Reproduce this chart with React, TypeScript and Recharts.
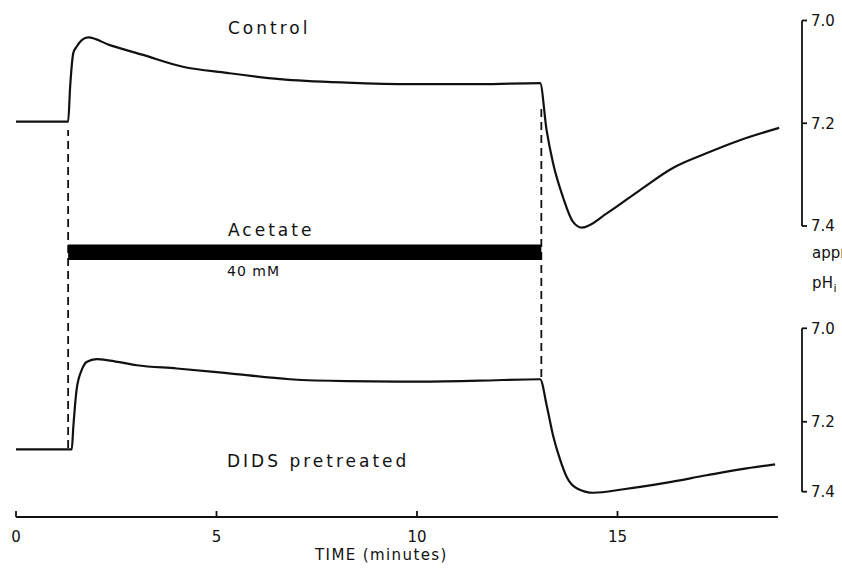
import React from "react";
import { LineChart, Line, XAxis, YAxis, ReferenceLine, ReferenceArea } from "recharts";

// time (minutes) and approximate pHi
const CONTROL_T = [0, 1.3, 1.35, 1.43, 1.51, 1.64, 1.8, 2.34, 3.17, 4.16, 5.26, 6.58, 8.25, 9.9, 11.57, 13.07, 13.23, 13.39, 13.64, 13.89, 14.11, 14.74, 15.56, 16.38, 17.23, 18.05, 19.03];
const CONTROL_PH = [7.197, 7.197, 7.129, 7.063, 7.051, 7.038, 7.033, 7.048, 7.067, 7.09, 7.102, 7.114, 7.121, 7.124, 7.124, 7.122, 7.213, 7.277, 7.344, 7.392, 7.403, 7.375, 7.33, 7.287, 7.258, 7.233, 7.209];

const DIDS_T = [0, 1.39, 1.43, 1.51, 1.64, 1.76, 2.01, 2.34, 3.01, 4.01, 5.26, 6.83, 8.25, 9.91, 11.57, 13.07, 13.24, 13.4, 13.57, 13.73, 13.98, 14.4, 15.15, 16.23, 17.22, 18.06, 18.93];
const DIDS_PH = [7.279, 7.279, 7.214, 7.132, 7.089, 7.072, 7.066, 7.069, 7.079, 7.086, 7.096, 7.109, 7.113, 7.114, 7.112, 7.109, 7.168, 7.243, 7.309, 7.357, 7.39, 7.403, 7.393, 7.374, 7.353, 7.336, 7.322];

const ACETATE_ON = 1.3;
const ACETATE_OFF = 13.1;

const TIME_TICKS = [0, 5, 10, 15];
const PH_TICKS = [7.0, 7.2, 7.4];

// "appr." pHi brackets: where each tick sits along the bracket (0 = top, 1 = bottom)
const CONTROL_CAL = [0, 0.5, 1];
const DIDS_CAL = [0, 0.572, 1];

const controlData = CONTROL_T.map((t, i) => ({ t, ph: CONTROL_PH[i] }));
const didsData = DIDS_T.map((t, i) => ({ t, ph: DIDS_PH[i] }));

const FONT = "'DejaVu Sans', sans-serif";
const INK = "#111";
const W = 842;
const PANEL_T_MAX = 19.6; // panel charts run up to the pH brackets
const AXIS_T_MAX = 19;
const TIME_TICK_MARGIN = 14;

// piecewise linear scale through the calibration ticks (d3-like interface)
function calScale(knots: number[], pos: number[]): any {
  let dom = [knots[0], knots[knots.length - 1]];
  let rng = [0, 1];
  const frac = (v: number) => {
    let i = 0;
    while (i < knots.length - 2 && v > knots[i + 1]) i++;
    const f = (v - knots[i]) / (knots[i + 1] - knots[i]);
    return pos[i] + f * (pos[i + 1] - pos[i]);
  };
  const s: any = (v: number) => rng[0] + frac(v) * (rng[1] - rng[0]);
  s.domain = (d?: number[]) => { if (d === undefined) return dom; dom = d; return s; };
  s.range = (r?: number[]) => { if (r === undefined) return rng; rng = r; return s; };
  s.copy = () => calScale(knots, pos).domain(dom).range(rng);
  s.ticks = () => knots;
  s.invert = (y: number) => {
    const f = (y - rng[0]) / (rng[1] - rng[0]);
    let i = 0;
    while (i < pos.length - 2 && f > pos[i + 1]) i++;
    return knots[i] + ((f - pos[i]) / (pos[i + 1] - pos[i])) * (knots[i + 1] - knots[i]);
  };
  return s;
}

function Note({ x, y, size = 17, spacing = 3, children }: any) {
  return (
    <div style={{ position: "absolute", left: x, top: y - size / 2, fontSize: size, lineHeight: `${size}px`,
      letterSpacing: spacing, whiteSpace: "nowrap", color: INK }}>
      {children}
    </div>
  );
}

// time ticks point up from the axis line, labels sit below it
function TimeTick({ x, y, payload }: any) {
  const axisY = y - TIME_TICK_MARGIN;
  return (
    <g>
      <line x1={x} x2={x} y1={axisY} y2={axisY - 6} stroke={INK} strokeWidth={1.8} />
      <text x={x} y={y} dy="0.71em" textAnchor="middle" fill={INK} fontSize={15} fontFamily={FONT}>
        {payload.value}
      </text>
    </g>
  );
}

function Panel({ data, cal, top, height, mTop, mBottom }: any) {
  return (
    <div style={{ position: "absolute", left: 0, top }}>
      <LineChart width={W} height={height} data={data} margin={{ top: mTop, right: 0, bottom: mBottom, left: 16 }}>
        <XAxis type="number" dataKey="t" domain={[0, PANEL_T_MAX]} allowDataOverflow hide />
        <YAxis type="number" orientation="right" width={40} domain={[7.0, 7.4]} reversed
          scale={calScale(PH_TICKS, cal)} ticks={PH_TICKS} interval={0}
          tickFormatter={(v: number) => v.toFixed(1)}
          axisLine={{ stroke: INK, strokeWidth: 1.8 }} tickLine={{ stroke: INK, strokeWidth: 1.8 }}
          tickSize={5} tickMargin={4} tick={{ fill: INK, fontSize: 15, fontFamily: FONT }} />
        <Line type="monotone" dataKey="ph" stroke={INK} strokeWidth={2.2} dot={false} isAnimationActive={false} />
      </LineChart>
    </div>
  );
}

function Overlay({ top, height, mTop = 0, mBottom = 0, children }: any) {
  return (
    <div style={{ position: "absolute", left: 0, top }}>
      <LineChart width={W} height={height} margin={{ top: mTop, right: 40, bottom: mBottom, left: 16 }}>
        <XAxis type="number" dataKey="t" domain={[0, PANEL_T_MAX]} allowDataOverflow hide />
        <YAxis type="number" domain={[0, 1]} allowDataOverflow hide />
        {children}
      </LineChart>
    </div>
  );
}

export default function App() {
  return (
    <div style={{ position: "absolute", left: 0, top: 0, width: W, height: 568, overflow: "hidden",
      background: "#fff", fontFamily: FONT }}>
      {/* dashed markers at acetate on / off */}
      <Overlay top={130} height={318}>
        <ReferenceLine x={ACETATE_ON} stroke={INK} strokeWidth={1.8} strokeDasharray="8 5" />
      </Overlay>
      <Overlay top={107} height={270}>
        <ReferenceLine x={ACETATE_OFF} stroke={INK} strokeWidth={1.8} strokeDasharray="8 5" />
      </Overlay>

      {/* acetate application bar */}
      <Overlay top={215} height={75} mTop={29.5} mBottom={30}>
        <ReferenceArea x1={ACETATE_ON} x2={ACETATE_OFF} fill="#000" fillOpacity={1} stroke="none" />
      </Overlay>

      <Panel data={controlData} cal={CONTROL_CAL} top={0} height={240} mTop={20.5} mBottom={14} />
      <Panel data={didsData} cal={DIDS_CAL} top={300} height={210} mTop={28.3} mBottom={18.3} />

      {/* time axis */}
      <div style={{ position: "absolute", left: 0, top: 487 }}>
        <LineChart width={W} height={81} margin={{ top: 0, right: W - 16 - AXIS_T_MAX * 40.1, bottom: 0, left: 16 }}>
          <XAxis type="number" dataKey="t" domain={[0, AXIS_T_MAX]} allowDataOverflow ticks={TIME_TICKS} interval={0}
            height={51} axisLine={{ stroke: INK, strokeWidth: 1.8 }} tickLine={false} tickSize={0}
            tickMargin={TIME_TICK_MARGIN} tick={<TimeTick />} />
          <YAxis type="number" domain={[0, 1]} allowDataOverflow hide />
        </LineChart>
      </div>

      <Note x={228} y={28}>Control</Note>
      <Note x={228} y={230}>Acetate</Note>
      <Note x={227} y={271} size={14} spacing={1}>40 mM</Note>
      <Note x={227} y={461}>DIDS pretreated</Note>
      <Note x={315} y={555} size={15} spacing={1.4}>TIME  (minutes)</Note>
      <Note x={812} y={253} size={15} spacing={0}>approx.</Note>
      <Note x={812} y={283} size={15} spacing={0.3}>pH<sub style={{ fontSize: 11 }}>i</sub></Note>
    </div>
  );
}
